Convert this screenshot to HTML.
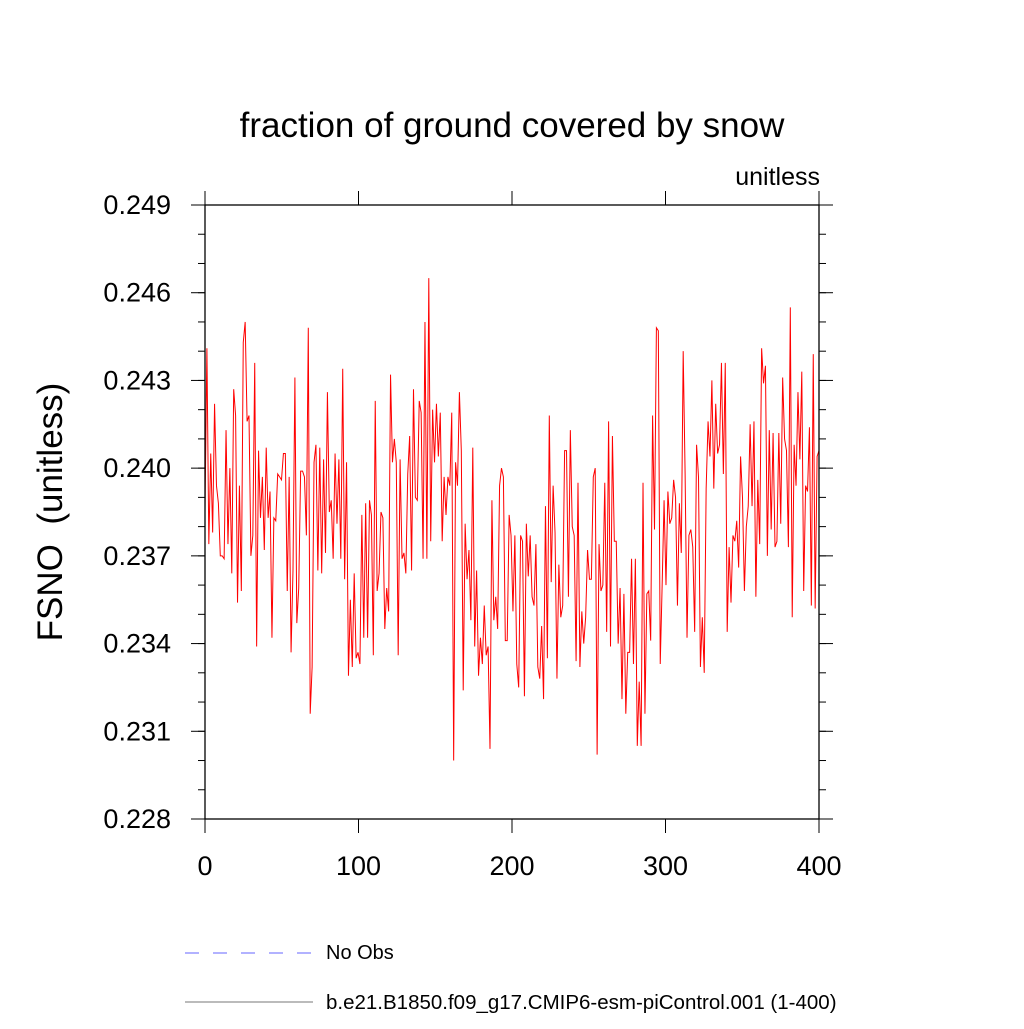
<!DOCTYPE html>
<html><head><meta charset="utf-8"><style>
body{margin:0;background:#fff;}
svg text{font-family:"Liberation Sans",sans-serif;fill:#000;}
</style></head><body>
<svg id="chart" width="1024" height="1024" viewBox="0 0 1024 1024" xmlns="http://www.w3.org/2000/svg">
<text x="512" y="137" font-size="35" text-anchor="middle">fraction of ground covered by snow</text>
<text x="820" y="185" font-size="25" text-anchor="end">unitless</text>
<text transform="translate(62,512) rotate(-90)" font-size="35" text-anchor="middle" xml:space="preserve">FSNO  (unitless)</text>
<g id="axes"></g>
<polyline id="series" fill="none" stroke="#ff0000" stroke-width="1"/>
<rect x="205" y="205" width="614" height="614" fill="none" stroke="#000" stroke-width="1.3"/>
<line x1="185" y1="953" x2="315" y2="953" stroke="#6666ff" stroke-width="1" stroke-dasharray="14,14"/>
<text x="326" y="959" font-size="20">No Obs</text>
<line x1="185" y1="1002" x2="313" y2="1002" stroke="#777" stroke-width="1"/>
<text x="326" y="1009" font-size="20.5">b.e21.B1850.f09_g17.CMIP6-esm-piControl.001 (1-400)</text>
</svg>
<script>
const yTicks=[0.228,0.231,0.234,0.237,0.240,0.243,0.246,0.249];
const yTickLabels=["0.228","0.231","0.234","0.237","0.240","0.243","0.246","0.249"];
const xTicks=[0,100,200,300,400];
const xTickLabels=["0","100","200","300","400"];
const fsnoValues=[
0.2385,0.2441,0.2374,0.2405,0.2378,0.2422,0.2394,0.2388,0.2370,0.2370,0.2369,0.2413,0.2374,0.2400,0.2364,0.2427,0.2418,0.2354,0.2394,0.2358,0.2443,0.2450,0.2416,0.2418,0.2370,0.2377,0.2436,0.2339,0.2406,0.2383,0.2397,0.2372,0.2407,0.2383,0.2392,0.2342,0.2383,0.2382,0.2398,0.2397,
0.2396,0.2405,0.2405,0.2358,0.2397,0.2337,0.2365,0.2431,0.2347,0.2359,0.2399,0.2399,0.2397,0.2377,0.2448,0.2316,0.2332,0.2402,0.2408,0.2365,0.2407,0.2364,0.2403,0.2371,0.2426,0.2385,0.2389,0.2369,0.2405,0.2381,0.2403,0.2369,0.2434,0.2362,0.2402,0.2329,
0.2355,0.2332,0.2364,0.2335,0.2337,0.2333,0.2384,0.2342,0.2388,0.2342,0.2389,0.2384,0.2336,0.2423,0.2358,0.2364,0.2385,0.2383,0.2345,0.2359,0.2351,0.2432,0.2402,0.2410,0.2402,0.2336,0.2403,0.2369,0.2371,0.2364,0.2398,0.2411,0.2365,0.2427,0.2390,0.2389,0.2423,0.2419,0.2369,0.2450,
0.2369,0.2465,0.2375,0.2420,0.2402,0.2422,0.2404,0.2419,0.2375,0.2397,0.2384,0.2397,0.2394,0.2419,0.2300,0.2402,0.2394,0.2426,0.2406,0.2324,0.2381,0.2362,0.2372,0.2348,0.2407,0.2339,0.2365,0.2329,0.2342,0.2333,0.2353,0.2336,0.2339,0.2304,0.2389,0.2348,0.2356,0.2345,0.2394,0.2400,0.2397,0.2341,
0.2341,0.2384,0.2377,0.2351,0.2377,0.2333,0.2325,0.2377,0.2375,0.2322,0.2381,0.2363,0.2377,0.2356,0.2353,0.2374,0.2332,0.2328,0.2346,0.2321,0.2387,0.2335,0.2418,0.2361,0.2394,0.2378,0.2328,0.2367,0.2349,0.2353,0.2406,0.2406,0.2356,0.2413,0.2380,0.2377,0.2334,0.2395,0.2332,0.2351,0.2340,0.2349,0.2372,0.2362,
0.2362,0.2397,0.2400,0.2302,0.2374,0.2358,0.2360,0.2395,0.2344,0.2416,0.2339,0.2411,0.2375,0.2375,0.2340,0.2359,0.2321,0.2357,0.2316,0.2337,0.2337,0.2369,0.2333,0.2369,0.2305,0.2327,0.2305,0.2395,0.2316,0.2357,0.2358,0.2341,0.2418,0.2379,0.2448,0.2447,0.2333,0.2360,0.2389,0.2360,0.2392,0.2381,0.2383,0.2396,
0.2390,0.2353,0.2388,0.2371,0.2440,0.2398,0.2342,0.2377,0.2379,0.2373,0.2344,0.2408,0.2397,0.2332,0.2349,0.2330,0.2393,0.2416,0.2404,0.2430,0.2393,0.2422,0.2405,0.2408,0.2436,0.2398,0.2436,0.2344,0.2373,0.2354,0.2377,0.2375,0.2382,0.2366,0.2404,0.2390,0.2358,0.2380,0.2387,0.2415,
0.2387,0.2416,0.2356,0.2396,0.2374,0.2441,0.2429,0.2435,0.2370,0.2413,0.2379,0.2412,0.2373,0.2375,0.2412,0.2381,0.2431,0.2410,0.2406,0.2373,0.2455,0.2349,0.2408,0.2394,0.2426,0.2403,0.2433,0.2358,0.2394,0.2392,0.2414,0.2353,0.2439,0.2352,0.2404,0.2406
];
const X0=205,X1=819,Y0=819,Y1=205;
function xs(v){return X0+(v-0)/(400-0)*(X1-X0);}
function ys(v){return Y0-(v-0.228)/(0.249-0.228)*(Y0-Y1);}
const NS="http://www.w3.org/2000/svg";
const axes=document.getElementById('axes');
function ln(x1,y1,x2,y2,name){const l=document.createElementNS(NS,'line');
l.setAttribute('x1',x1);l.setAttribute('y1',y1);l.setAttribute('x2',x2);l.setAttribute('y2',y2);
l.setAttribute('stroke','#000');l.setAttribute('stroke-width','1');


axes.appendChild(l);}
function tx(x,y,s,anchor,name){const t=document.createElementNS(NS,'text');
t.setAttribute('x',x);t.setAttribute('y',y);t.setAttribute('font-size','27');t.setAttribute('text-anchor',anchor);t.textContent=s;


axes.appendChild(t);}
yTicks.forEach((v,i)=>{const y=ys(v);
ln(X0-14,y,X0,y,'y-tick');ln(X1,y,X1+14,y,'y-tick-right');
tx(X0-34,y+9,yTickLabels[i],'end','y-tick-label');});
for(let v=0.228;v<0.2490001;v+=0.001){const y=ys(v);ln(X0-7,y,X0,y,'y-minor-tick');ln(X1,y,X1+7,y,'y-minor-tick-right');}
xTicks.forEach((v,i)=>{const x=xs(v);
ln(x,Y0,x,Y0+14,'x-tick');ln(x,Y1-14,x,Y1,'x-tick-top');
tx(x,Y0+56,xTickLabels[i],'middle','x-tick-label');});
const n=fsnoValues.length;
const pts=fsnoValues.map((v,i)=>xs(i*400/(n-1)).toFixed(2)+','+ys(v).toFixed(2)).join(' ');
document.getElementById('series').setAttribute('points',pts);
</script>
</body></html>
